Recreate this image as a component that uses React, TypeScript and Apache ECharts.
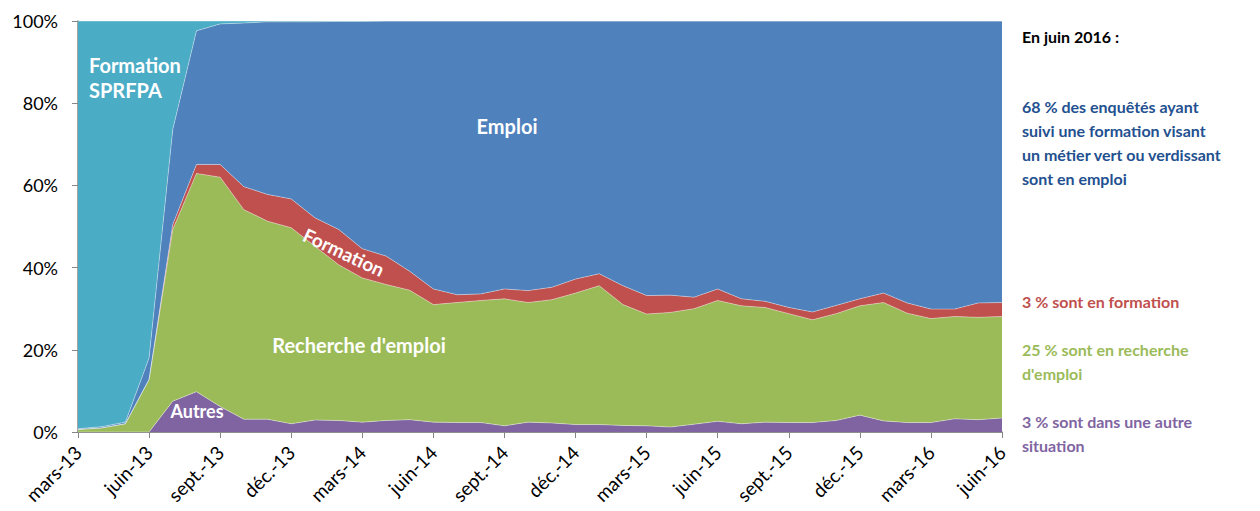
import React, { useEffect, useRef } from "react";
import * as echarts from "echarts";

const months = [
  "mars-13", "avr.-13", "mai-13", "juin-13", "juil.-13", "août-13", "sept.-13", "oct.-13", "nov.-13", "déc.-13",
  "janv.-14", "févr.-14", "mars-14", "avr.-14", "mai-14", "juin-14", "juil.-14", "août-14", "sept.-14", "oct.-14",
  "nov.-14", "déc.-14", "janv.-15", "févr.-15", "mars-15", "avr.-15", "mai-15", "juin-15", "juil.-15", "août-15",
  "sept.-15", "oct.-15", "nov.-15", "déc.-15", "janv.-16", "févr.-16", "mars-16", "avr.-16", "mai-16", "juin-16",
];

const autres = [
  0, 0, 0, 0, 7.5, 9.8, 6.2, 3.1, 3.1, 2.0,
  2.9, 2.8, 2.4, 2.8, 3.0, 2.4, 2.3, 2.3, 1.5, 2.4,
  2.2, 1.8, 1.8, 1.6, 1.5, 1.2, 1.9, 2.6, 2.0, 2.4,
  2.3, 2.3, 2.8, 4.1, 2.7, 2.3, 2.3, 3.2, 3.0, 3.4,
];

const recherche = [
  0.6, 1.0, 2.0, 12.8, 41.8, 53.1, 55.8, 51.0, 48.2, 47.7,
  42.3, 37.9, 35.1, 33.1, 31.5, 28.6, 29.2, 29.7, 30.9, 29.1,
  30.0, 32.0, 33.8, 29.4, 27.2, 27.9, 28.1, 29.4, 28.7, 27.9,
  26.5, 25.0, 26.0, 26.6, 28.8, 26.6, 25.3, 24.9, 24.9, 24.7,
];

const formation = [
  0, 0, 0, 0, 1.2, 2.2, 3.1, 5.6, 6.5, 7.0,
  6.9, 8.6, 7.1, 6.9, 4.6, 3.8, 1.9, 1.6, 2.4, 2.9,
  3.0, 3.4, 2.9, 4.6, 4.5, 4.2, 2.8, 2.8, 1.7, 1.5,
  1.5, 1.9, 2.0, 1.7, 2.3, 2.5, 2.3, 1.8, 3.5, 3.4,
];

const emploi = [
  0.2, 0.3, 0.4, 5.2, 23.1, 32.5, 34.2, 39.8, 42.0, 43.1,
  47.7, 50.6, 55.3, 57.2, 60.9, 65.2, 66.6, 66.4, 65.2, 65.6,
  64.8, 62.8, 61.5, 64.4, 66.8, 66.7, 67.2, 65.2, 67.6, 68.2,
  69.7, 70.8, 69.2, 67.6, 66.2, 68.6, 70.1, 70.1, 68.6, 68.5,
];

const sprfpa = [
  99.2, 98.7, 97.6, 82.0, 26.4, 2.4, 0.7, 0.5, 0.2, 0.2,
  0.2, 0.1, 0.1, 0, 0, 0, 0, 0, 0, 0,
  0, 0, 0, 0, 0, 0, 0, 0, 0, 0,
  0, 0, 0, 0, 0, 0, 0, 0, 0, 0,
];

const seriesNames = ["Autres", "Recherche d'emploi", "Formation", "Emploi", "Formation SPRFPA"];
const seriesColors = ["#8064A2", "#9BBB59", "#C0504D", "#4F81BD", "#4BACC6"];

const FONT = "Lato, 'Open Sans', sans-serif";

export default function App() {
  const ref = useRef<HTMLDivElement>(null);

  useEffect(() => {
    if (!ref.current) return;
    const chart = echarts.init(ref.current, undefined, { renderer: "svg" });
    const dataSets = [autres, recherche, formation, emploi, sprfpa];

    const inLabel = (text: string, x: number, y: number, size: number, extra: any = {}) => ({
      type: "text",
      x,
      y,
      z: 100,
      ...extra,
      style: {
        text,
        fill: "#ffffff",
        font: `bold ${size}px ${FONT}`,
        textAlign: extra.textAlign || "center",
        textVerticalAlign: "middle",
        lineHeight: 25,
      },
    });

    const sideText = (text: string, y: number, color: string) => ({
      type: "text",
      x: 1022,
      y,
      z: 100,
      style: {
        text,
        fill: color,
        font: `bold 16px ${FONT}`,
        textAlign: "left",
        textVerticalAlign: "top",
        lineHeight: 24,
      },
    });

    chart.setOption({
      animation: false,
      grid: { left: 78, right: 258, top: 21, bottom: 79, containLabel: false },
      xAxis: {
        type: "category",
        data: months,
        boundaryGap: false,
        axisLine: { show: true, lineStyle: { color: "#868686", width: 1.5 } },
        axisTick: { show: true, interval: 2, length: 6, lineStyle: { color: "#868686" } },
        axisLabel: {
          interval: 2,
          rotate: 45,
          margin: 17,
          color: "#000000",
          fontFamily: FONT,
          fontSize: 19,
        },
        splitLine: { show: false },
      },
      yAxis: {
        type: "value",
        min: 0,
        max: 100,
        interval: 20,
        axisLine: { show: true, lineStyle: { color: "#868686", width: 1.5 } },
        axisTick: { show: true, length: 6, lineStyle: { color: "#868686" } },
        axisLabel: {
          formatter: "{value}%",
          margin: 20,
          color: "#000000",
          fontFamily: FONT,
          fontSize: 18,
        },
        splitLine: { show: true, lineStyle: { color: "#a6a6a6", width: 1 } },
      },
      series: dataSets.map((d, k) => ({
        name: seriesNames[k],
        type: "line",
        stack: "total",
        data: d,
        symbol: "none",
        smooth: false,
        itemStyle: { color: seriesColors[k] },
        lineStyle: { width: 0.7, color: "rgba(255,255,255,0.55)" },
        areaStyle: { color: seriesColors[k], opacity: 1 },
        z: 2,
      })),
      graphic: [
        inLabel("Formation\nSPRFPA", 89, 77, 20, { textAlign: "left" }),
        inLabel("Emploi", 507, 126, 20),
        inLabel("Recherche d'emploi", 359, 345, 20),
        inLabel("Autres", 197, 411, 18),
        inLabel("Formation", 344, 252, 19, { rotation: -0.44 }),
        sideText("En juin 2016 :", 24, "#000000"),
        sideText("68 % des enquêtés ayant\nsuivi une formation visant\nun métier vert ou verdissant\nsont en emploi", 94, "#23508F"),
        sideText("3 % sont en formation", 289, "#C0504D"),
        sideText("25 % sont en recherche\nd'emploi", 337, "#9BBB59"),
        sideText("3 % sont dans une autre\nsituation", 409, "#8064A2"),
      ],
    });

    return () => chart.dispose();
  }, []);

  return (
    <div
      ref={ref}
      style={{ position: "fixed", left: 0, top: 0, width: 1260, height: 511, background: "#ffffff" }}
    />
  );
}
